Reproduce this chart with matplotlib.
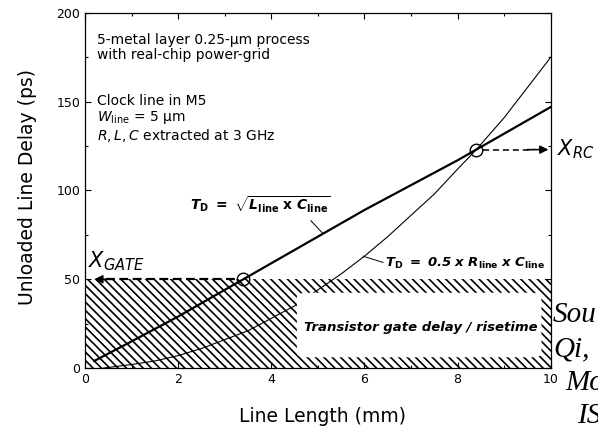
import numpy as np
import matplotlib
matplotlib.use("Agg")
from matplotlib import pyplot as plt
from matplotlib.patches import FancyBboxPatch

plt.rcParams['font.family'] = ['DejaVu Sans']
plt.rcParams['mathtext.fontset'] = 'custom'
plt.rcParams['mathtext.rm'] = 'DejaVu Sans'
plt.rcParams['mathtext.it'] = 'DejaVu Sans:italic'
plt.rcParams['mathtext.bf'] = 'DejaVu Sans:bold'
plt.rcParams['mathtext.bfit'] = 'DejaVu Sans:bold:italic'
plt.rcParams['hatch.linewidth'] = 1.2

# data
lc_x = [0.2, 1, 2, 3, 3.4, 4, 5, 6, 7, 8, 8.4, 9, 10]
lc_y = [4, 15, 29, 44, 50, 59, 74, 89, 103, 117, 123, 132, 147]
rc_x = [0.4, 1, 1.5, 2, 2.5, 3, 3.5, 4, 4.5, 5, 5.5, 6, 6.5, 7, 7.5, 8, 8.4, 9, 9.5, 10]
rc_y = [0, 2, 4, 7, 11, 16, 21, 28, 35, 44, 53, 63, 74, 86, 98, 112, 123, 141, 158, 175]
gate_delay = 50
x_gate = (3.4, 50)
x_rc = (8.4, 123)
x_ticks = [0, 2, 4, 6, 8, 10]
y_ticks = [0, 50, 100, 150, 200]

fig = plt.figure(figsize=(5.98, 4.29), dpi=100)
ax = fig.add_axes([0.142, 0.142, 0.779, 0.828])
ax.set_xlim(0, 10)
ax.set_ylim(0, 200)

# hatched gate delay band with white label box
ax.fill_between([0, 10], 0, gate_delay, facecolor='none', edgecolor='black',
                hatch='\\' * 4, linewidth=0, zorder=1)
ax.add_patch(FancyBboxPatch((4.6, 6.5), 5.15, 35.5,
                            boxstyle='round,pad=0.05,rounding_size=0.25',
                            mutation_aspect=8, facecolor='white',
                            edgecolor='none', zorder=3))
ax.text(7.2, 23, 'Transistor gate delay / risetime', ha='center', va='center',
        fontsize=9.5, fontweight='bold', fontstyle='italic', zorder=4)

# delay curves
ax.plot(lc_x, lc_y, color='black', lw=1.6, zorder=2)
ax.plot(rc_x, rc_y, color='black', lw=0.8, zorder=2)

# crossing markers
ax.plot(*x_gate, 'o', ms=9, mfc='none', mec='black', mew=1.0, zorder=5)
ax.plot(*x_rc, 'o', ms=9, mfc='none', mec='black', mew=1.0, zorder=5)

# dashed arrows
ax.plot([0.45, x_gate[0] - 0.15], [x_gate[1]] * 2, color='black', lw=1.6,
        ls=(0, (4, 2)), zorder=5)
ax.annotate('', xy=(0.2, x_gate[1]), xytext=(0.6, x_gate[1]),
            arrowprops=dict(arrowstyle='-|>', color='black', lw=1.2,
                            mutation_scale=12, shrinkA=0, shrinkB=0), zorder=6)
ax.plot([x_rc[0] + 0.15, 9.6], [x_rc[1]] * 2, color='black', lw=1.1,
        ls=(0, (4, 2.5)), zorder=5)
ax.annotate('', xy=(9.95, x_rc[1]), xytext=(9.5, x_rc[1]),
            arrowprops=dict(arrowstyle='-|>', color='black', lw=1.2,
                            mutation_scale=12, shrinkA=0, shrinkB=0), zorder=6)

# formula labels
ax.text(2.25, 92,
        r'$\mathbfit{T}_{\mathbf{D}}\ \mathbf{=}\ \sqrt{\mathbfit{L}_{\mathbf{line}}'
        r'\mathbf{\ x\ }\mathbfit{C}_{\mathbf{line}}}$',
        fontsize=10, ha='left', va='center')
ax.plot([4.85, 5.1], [83, 76], color='black', lw=0.7)
ax.text(6.45, 59,
        r'$\mathbfit{T}_{\mathbf{D}}\ \mathbf{=}\ \mathbfit{0.5\ x\ R}_{\mathbf{line}}'
        r'\mathbfit{\ x\ C}_{\mathbf{line}}$',
        fontsize=9.5, ha='left', va='center')
ax.plot([5.97, 6.4], [63, 59.5], color='black', lw=0.7)

ax.text(0.07, 60, r'$X_{GATE}$', fontsize=15, ha='left', va='center')
fig.text(0.931, 0.653, r'$X_{RC}$', fontsize=15, ha='left', va='center')

# process notes
ax.text(0.027, 0.944, '5-metal layer 0.25-µm process\nwith real-chip power-grid',
        transform=ax.transAxes, fontsize=10, va='top', linespacing=1.15)
ax.text(0.027, 0.772,
        'Clock line in M5\n$W_{\\mathrm{line}}$ = 5 µm\n$R,L,C$ extracted at 3 GHz',
        transform=ax.transAxes, fontsize=10, va='top', linespacing=1.1)

# axes styling
ax.set_xticks(x_ticks)
ax.set_yticks(y_ticks)
ax.set_xticks(np.arange(0, 11, 1), minor=True)
ax.set_yticks(np.arange(0, 201, 25), minor=True)
ax.tick_params(which='both', direction='in', top=True, right=True, labelsize=9,
               width=0.8)
ax.tick_params(which='major', length=4)
ax.tick_params(which='minor', length=2)
for s in ax.spines.values():
    s.set_linewidth(0.9)
ax.set_xlabel('Line Length (mm)', fontsize=13.5)
ax.set_ylabel('Unloaded Line Delay (ps)', fontsize=13.5)
ax.xaxis.set_label_coords(0.51, -0.11)
ax.yaxis.set_label_coords(-0.103, 0.51)

# cropped source note on the right edge
serif = dict(family=['Liberation Serif', 'DejaVu Serif'], fontstyle='italic',
             fontsize=21, va='baseline', ha='left')
fig.text(0.925, 0.249, 'Sou', **serif)
fig.text(0.925, 0.170, 'Qi,', **serif)
fig.text(0.946, 0.091, 'Mo', **serif)
fig.text(0.965, 0.013, 'IS', **serif)

fig.savefig('out.png', dpi=100)
